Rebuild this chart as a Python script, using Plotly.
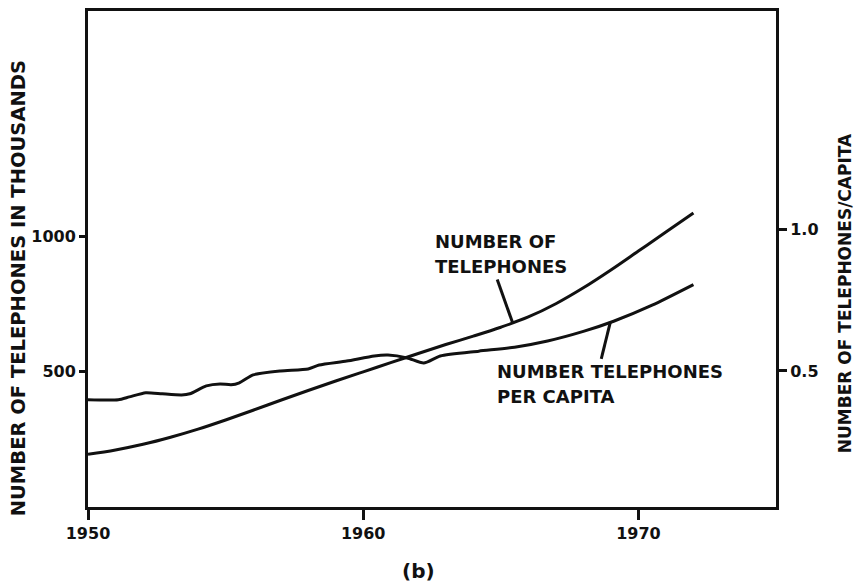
import plotly.graph_objects as go

# ---- data ----
years_total = list(range(1950, 1973))
telephones_thousands = [195, 211, 232, 258, 288, 322, 358, 395, 431, 466, 500, 534,
                        568, 601, 632, 665, 703, 752, 811, 877, 947, 1017, 1088]

years_capita = [1950.0, 1951.1, 1951.5, 1952.1, 1952.7, 1953.4, 1953.7, 1954.3, 1954.8,
                1955.2, 1955.5, 1956.0, 1957.0, 1958.0, 1958.4, 1959.4, 1960.4, 1960.9,
                1961.6, 1962.2, 1962.8, 1964.2, 1965.5, 1966.7, 1968.0, 1969.1, 1970.5,
                1972.0]
telephones_per_capita = [0.398, 0.398, 0.408, 0.423, 0.419, 0.415, 0.419, 0.447, 0.454,
                         0.451, 0.458, 0.486, 0.500, 0.507, 0.521, 0.535, 0.553, 0.556,
                         0.546, 0.528, 0.553, 0.570, 0.584, 0.606, 0.640, 0.676, 0.733,
                         0.806]

x_ticks = [1950, 1960, 1970]
left_ticks = [500, 1000]
right_ticks = [0.5, 1.0]
right_tick_labels = ["0.5", "1.0"]

FONT = "DejaVu Sans"
BLACK = "#111111"

fig = go.Figure()
fig.add_trace(go.Scatter(x=years_total, y=telephones_thousands, mode="lines",
                         line=dict(color=BLACK, width=3, shape="spline", smoothing=1.0),
                         showlegend=False, hoverinfo="skip"))
fig.add_trace(go.Scatter(x=years_capita, y=telephones_per_capita, mode="lines", yaxis="y2",
                         line=dict(color=BLACK, width=3, shape="spline", smoothing=0.6),
                         showlegend=False, hoverinfo="skip"))

tickfont = dict(family=FONT, size=16, color=BLACK, weight="bold")

fig.update_layout(
    width=861, height=587,
    margin=dict(l=88, r=85, t=8, b=80),
    paper_bgcolor="white", plot_bgcolor="white",
    xaxis=dict(range=[1950, 1975], tickvals=x_ticks, ticktext=[str(v) for v in x_ticks],
               showgrid=False, zeroline=False, showline=True, linecolor=BLACK, linewidth=3,
               mirror=True, ticks="outside", ticklen=10, tickwidth=3, tickcolor=BLACK,
               tickfont=tickfont),
    yaxis=dict(range=[0, 1835], tickvals=left_ticks, ticktext=[str(v) for v in left_ticks],
               showgrid=False, zeroline=False, showline=True, linecolor=BLACK, linewidth=3,
               ticks="outside", ticklen=6, tickwidth=3, tickcolor=BLACK, tickfont=tickfont),
    yaxis2=dict(range=[0.018, 1.775], overlaying="y", side="right", tickvals=right_ticks,
                ticktext=right_tick_labels, showgrid=False, zeroline=False, showline=True,
                linecolor=BLACK, linewidth=3, ticks="outside", ticklen=8, tickwidth=3,
                tickcolor=BLACK, tickfont=tickfont),
)

labfont = dict(family=FONT, size=18, color=BLACK, weight="bold")
ann = [
    ("NUMBER OF", 1962.55, 982),
    ("TELEPHONES", 1962.55, 890),
    ("NUMBER TELEPHONES", 1964.8, 500),
    ("PER CAPITA", 1964.8, 408),
]
for txt, xx, yy in ann:
    fig.add_annotation(x=xx, y=yy, xref="x", yref="y", text=txt, showarrow=False,
                       xanchor="left", yanchor="middle", font=labfont)

# pointer lines
fig.add_shape(type="line", x0=1964.87, y0=842, x1=1965.42, y1=684, xref="x", yref="y",
              line=dict(color=BLACK, width=3))
fig.add_shape(type="line", x0=1968.98, y0=684, x1=1968.65, y1=548, xref="x", yref="y",
              line=dict(color=BLACK, width=3))

# axis titles
fig.add_annotation(x=-0.1017, y=0.441, xref="paper", yref="paper",
                   text="NUMBER OF TELEPHONES IN THOUSANDS", textangle=-90, showarrow=False,
                   xanchor="center", yanchor="middle",
                   font=dict(family=FONT, size=19.5, color=BLACK, weight="bold"))
fig.add_annotation(x=1.1003, y=0.431, xref="paper", yref="paper",
                   text="NUMBER OF TELEPHONES/CAPITA", textangle=-90, showarrow=False,
                   xanchor="center", yanchor="middle",
                   font=dict(family=FONT, size=17, color=BLACK, weight="bold"))
fig.add_annotation(x=0.48, y=-0.130, xref="paper", yref="paper", text="(b)",
                   showarrow=False, xanchor="center", yanchor="middle",
                   font=dict(family=FONT, size=20, color=BLACK, weight="bold"))

fig.write_html("out.html", config={"displayModeBar": False},
               post_script="document.body.style.margin='0';document.body.style.overflow='hidden';")
